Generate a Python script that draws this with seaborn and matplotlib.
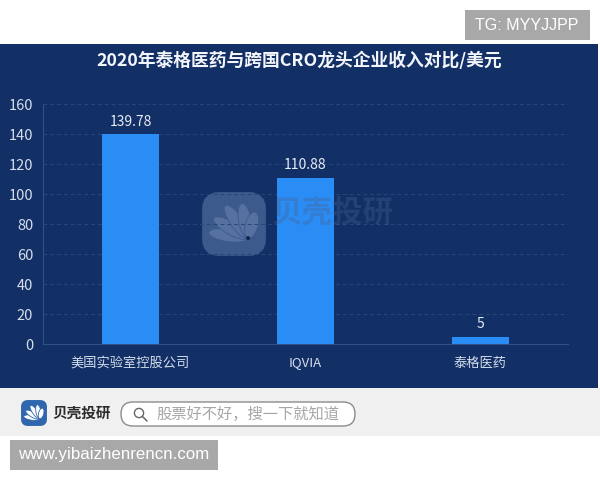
import numpy as np
import pandas as pd
import matplotlib.pyplot as plt
from matplotlib.patches import Circle, Ellipse, FancyBboxPatch, Rectangle
import seaborn as sns


COMPANIES = ["美国实验室控股公司", "IQVIA", "泰格医药"]
REVENUE = [139.78, 110.88, 5]
VALUE_LABELS = ["139.78", "110.88", "5"]
Y_TICKS = [0, 20, 40, 60, 80, 100, 120, 140, 160]

TITLE = "2020年泰格医药与跨国CRO龙头企业收入对比/美元"
NAVY = "#122f66"
BAR_BLUE = "#2a8cf5"

sns.set_theme(style="white")
plt.rcParams["font.family"] = ["Noto Sans CJK SC", "DejaVu Sans"]


def draw_logo(ax, x, y, size, box_color, petal_color, dot=False):
    # fan shaped logo, x/y is the top left corner in pixels
    ax.add_patch(FancyBboxPatch((x + size * 0.12, y + size * 0.12), size * 0.76, size * 0.76,
                                boxstyle=f"round,pad=0,rounding_size={size * 0.14}",
                                mutation_aspect=1, facecolor=box_color, edgecolor=box_color,
                                linewidth=size * 0.17, zorder=2))
    cx, cy = x + size * 0.72, y + size * 0.72
    for angle, length in zip([-172, -150, -125, -100, -75], [0.62, 0.62, 0.62, 0.55, 0.42]):
        rad = np.deg2rad(angle)
        mx = cx + np.cos(rad) * size * length * 0.5
        my = cy + np.sin(rad) * size * length * 0.5
        ax.add_patch(Ellipse((mx, my), size * length, size * 0.2, angle=angle,
                             facecolor=petal_color, edgecolor=box_color, linewidth=0.6, zorder=3))
    if dot:
        ax.add_patch(Circle((cx, cy), size * 0.03, facecolor="#0d2347", edgecolor="none", zorder=4))


fig = plt.figure(figsize=(6, 4.8), dpi=100, facecolor="white")

# page furniture in pixel coordinates
bg = fig.add_axes([0, 0, 1, 1], zorder=0)
bg.set_xlim(0, 600)
bg.set_ylim(480, 0)
bg.axis("off")
bg.add_patch(Rectangle((0, 44), 598, 344, facecolor=NAVY, edgecolor="none"))
bg.add_patch(Rectangle((0, 388), 600, 48, facecolor="#f0f0f0", edgecolor="none"))
bg.add_patch(Rectangle((465, 10), 125, 30, facecolor="#a8a8a8", edgecolor="none"))
bg.add_patch(Rectangle((10, 440), 208, 30, facecolor="#a8a8a8", edgecolor="none"))
bg.text(527, 25.5, "TG: MYYJJPP", color="white", fontsize=11.5, ha="center", va="center",
        family="Liberation Sans")
bg.text(114, 455, "www.yibaizhenrencn.com", color="white", fontsize=12.2, ha="center", va="center",
        family="Liberation Sans")
bg.text(299, 61, TITLE, color="#f2f5fa", fontsize=12.8, fontweight="bold", ha="center", va="center")

# watermark behind the bars
draw_logo(bg, 202, 192, 64, "#3d5a8c", "#56719f", dot=True)

# footer
draw_logo(bg, 21, 400, 26, "#2f66ad", "white")
bg.text(52, 413, "贝壳投研", color="#2b2b2b", fontsize=10.5, fontweight="bold", ha="left", va="center")
bg.add_patch(FancyBboxPatch((121, 402), 234, 24, boxstyle="round,pad=0,rounding_size=12",
                            facecolor="white", edgecolor="#8c8c8c", linewidth=1))
bg.add_patch(Circle((139, 413), 4.6, facecolor="none", edgecolor="#666666", linewidth=1))
bg.plot([142.5, 147], [416.5, 421], color="#666666", linewidth=1.1)
bg.text(156, 414, "股票好不好，搜一下就知道", color="#a6a6a6", fontsize=11, ha="left", va="center")

# chart
ax = fig.add_axes([43 / 600, 136 / 480, 525 / 600, 240 / 480], zorder=1)
ax.patch.set_alpha(0)
df = pd.DataFrame({"company": COMPANIES, "revenue": REVENUE})
sns.barplot(data=df, x="company", y="revenue", color=BAR_BLUE, saturation=1, width=0.33,
            linewidth=0, ax=ax, zorder=3)
ax.set_xlim(-0.5, 2.5)
ax.set_ylim(0, 160)
ax.set_yticks(Y_TICKS)
ax.set_xlabel("")
ax.set_ylabel("")
ax.yaxis.grid(True, color="#28467c", linestyle=(0, (4, 3)), linewidth=0.7)
ax.set_axisbelow(True)
ax.tick_params(axis="both", length=0, colors="#d5deeb", labelsize=10.5)
ax.tick_params(axis="x", pad=9, labelsize=9.5)
ax.tick_params(axis="y", pad=7)
for side in ["top", "right"]:
    ax.spines[side].set_visible(False)
for side in ["left", "bottom"]:
    ax.spines[side].set_color("#2f5188")
    ax.spines[side].set_linewidth(0.8)
for container in ax.containers:
    ax.bar_label(container, labels=VALUE_LABELS, color="#e6ecf5", fontsize=10, padding=4)

# watermark text lies over the bars
top = fig.add_axes([0, 0, 1, 1], zorder=2)
top.set_xlim(0, 600)
top.set_ylim(480, 0)
top.axis("off")
top.text(272, 213, "贝壳投研", color="#47628f", alpha=0.35, fontsize=22, fontweight="bold", ha="left", va="center")

fig.savefig("out.png", dpi=100, facecolor="white")
